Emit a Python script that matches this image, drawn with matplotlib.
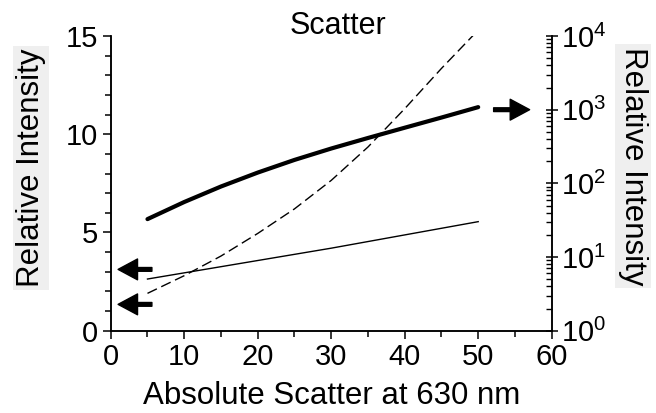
import matplotlib
matplotlib.use('Agg')
import matplotlib.pyplot as plt
from matplotlib.ticker import MultipleLocator, LogLocator, NullFormatter

plt.rcParams['font.family'] = ['Liberation Sans', 'DejaVu Sans']
plt.rcParams['mathtext.fontset'] = 'custom'
plt.rcParams['mathtext.rm'] = 'Liberation Sans'

# curves
scatter = [5, 10, 15, 20, 25, 30, 35, 40, 45, 50]
thick_log = [32.7, 55.8, 90.6, 140, 208, 297, 413, 569, 782, 1083]   # right (log) axis
dashed_lin = [1.9, 2.8, 3.8, 4.95, 6.2, 7.65, 9.35, 11.3, 13.35, 15.3]  # left axis
thin_x = [5, 30, 50]
thin_lin = [2.63, 4.2, 5.55]                                          # left axis

fig = plt.figure(figsize=(6.56, 4.13), dpi=100)
ax = fig.add_axes([0.1688, 0.1993, 0.6722, 0.7135])
ax2 = ax.twinx()

ax.plot(thin_x, thin_lin, color='k', lw=1.0)
ax.plot(scatter, dashed_lin, color='k', lw=1.0, dashes=(7.5, 3.5))
ax2.plot(scatter, thick_log, color='k', lw=3.0, solid_capstyle='round',
         solid_joinstyle='round')

ax.set_xlim(0, 60)
ax.set_ylim(0, 15)
ax2.set_yscale('log')
ax2.set_ylim(1, 1e4)

ax.xaxis.set_major_locator(MultipleLocator(10))
ax.xaxis.set_minor_locator(MultipleLocator(5))
ax.yaxis.set_major_locator(MultipleLocator(5))
ax.yaxis.set_minor_locator(MultipleLocator(1))
ax2.yaxis.set_major_locator(LogLocator(base=10, numticks=10))
ax2.yaxis.set_minor_locator(LogLocator(base=10, subs=range(2, 10), numticks=10))
ax2.yaxis.set_minor_formatter(NullFormatter())

ax.tick_params(which='major', direction='out', length=6, width=1.1, labelsize=21, pad=3)
ax.tick_params(which='minor', direction='out', length=4, width=1.1)
ax2.tick_params(which='major', direction='inout', length=9, width=1.1, labelsize=21, pad=2)
ax2.tick_params(which='minor', direction='in', length=4, width=1.0)

for a in (ax, ax2):
    a.spines['top'].set_visible(False)
    for s in ('left', 'right', 'bottom'):
        a.spines[s].set_linewidth(1.1)

# arrows pointing to the axis each curve belongs to
arrow_style = dict(width=2.7, headwidth=15, headlength=14, color='k', shrink=0)
ax.annotate('', xy=(1.0, 3.12), xytext=(5.6, 3.12), arrowprops=arrow_style, annotation_clip=False)
ax.annotate('', xy=(1.0, 1.34), xytext=(5.6, 1.34), arrowprops=arrow_style, annotation_clip=False)
ax2.annotate('', xy=(57.0, 1000), xytext=(52.1, 1000), arrowprops=arrow_style, annotation_clip=False)

ax.set_xlabel('Absolute Scatter at 630 nm', fontsize=22.5, labelpad=7)
fig.text(0.515, 1 - 26 / 413, 'Scatter', fontsize=22, ha='center', va='center')
box = dict(facecolor='#efefef', edgecolor='none', pad=2)
fig.text(31 / 656, 1 - 168 / 413, 'Relative Intensity', fontsize=22.5, rotation=90,
         ha='center', va='center', bbox=box)
fig.text(633 / 656, 1 - 166 / 413, 'Relative Intensity', fontsize=22.5, rotation=270,
         ha='center', va='center', bbox=box)

fig.savefig('out.png', dpi=100)
